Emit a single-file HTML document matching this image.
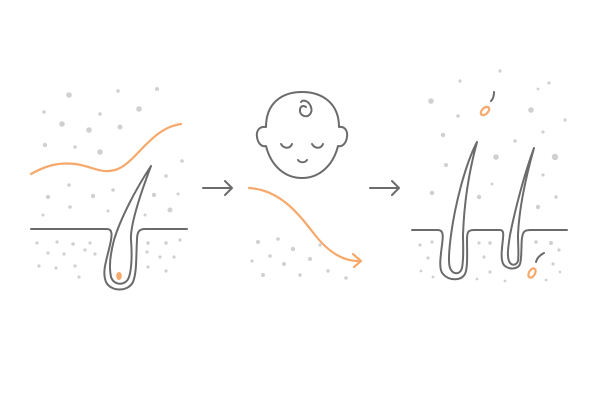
<!DOCTYPE html>
<html><head><meta charset="utf-8"><style>html,body{margin:0;padding:0;background:#fff}svg{display:block}</style></head><body>
<svg width="600" height="400" viewBox="0 0 600 400" xmlns="http://www.w3.org/2000/svg">
<g fill="#d0d0d0">
<circle cx="69" cy="95" r="2.8"/><circle cx="118" cy="91" r="1.8"/><circle cx="157" cy="89" r="2"/><circle cx="44" cy="112" r="1.8"/><circle cx="100" cy="114" r="1.8"/><circle cx="139" cy="109" r="2.8"/><circle cx="62" cy="124" r="2.8"/><circle cx="89" cy="130" r="2.8"/><circle cx="120" cy="127" r="2.5"/><circle cx="45" cy="145" r="2.2"/><circle cx="75" cy="147" r="1.8"/><circle cx="100" cy="152" r="2.8"/><circle cx="182" cy="161" r="1.8"/><circle cx="166" cy="176" r="1.8"/><circle cx="69" cy="185" r="1.8"/><circle cx="48" cy="197" r="2.2"/><circle cx="93" cy="196" r="2.2"/><circle cx="113" cy="190" r="1.8"/><circle cx="154" cy="195" r="2.2"/><circle cx="43" cy="215" r="1.5"/><circle cx="108" cy="211" r="1.5"/><circle cx="145" cy="215" r="1.5"/><circle cx="170" cy="210" r="2.5"/><circle cx="178" cy="194" r="1.5"/><circle cx="70" cy="207" r="1.8"/>
<circle cx="37" cy="243" r="1.6"/><circle cx="57" cy="242" r="1.6"/><circle cx="73" cy="244" r="1.8"/><circle cx="90" cy="243" r="1.6"/><circle cx="48" cy="253" r="1.6"/><circle cx="64" cy="254" r="1.6"/><circle cx="85" cy="250" r="1.6"/><circle cx="95" cy="254" r="1.6"/><circle cx="39" cy="266" r="1.6"/><circle cx="56" cy="268" r="1.6"/><circle cx="75" cy="266" r="1.6"/><circle cx="79" cy="277" r="1.6"/><circle cx="148" cy="243" r="1.8"/><circle cx="166" cy="243" r="1.8"/><circle cx="180" cy="240" r="1.6"/><circle cx="147" cy="252" r="1.6"/><circle cx="160" cy="257" r="1.6"/><circle cx="174" cy="257" r="1.6"/><circle cx="148" cy="267" r="1.6"/><circle cx="166" cy="271" r="1.6"/>
<circle cx="258" cy="242" r="2"/><circle cx="278" cy="239" r="1.8"/><circle cx="293" cy="249" r="2.2"/><circle cx="270" cy="256" r="1.8"/><circle cx="252" cy="261" r="1.6"/><circle cx="284" cy="264" r="2"/><circle cx="310" cy="259" r="2"/><circle cx="263" cy="275" r="2"/><circle cx="300" cy="275" r="1.8"/><circle cx="328" cy="271" r="1.8"/><circle cx="346" cy="278" r="1.8"/><circle cx="320" cy="245" r="1.6"/>
<circle cx="431" cy="101" r="2.8"/><circle cx="460" cy="81" r="1.6"/><circle cx="500" cy="71" r="1.6"/><circle cx="549" cy="83" r="1.6"/><circle cx="538" cy="89" r="1.4"/><circle cx="458" cy="116" r="1.8"/><circle cx="531" cy="110" r="2.8"/><circle cx="565" cy="120" r="1.6"/><circle cx="443" cy="135" r="2.2"/><circle cx="543" cy="132" r="1.6"/><circle cx="515" cy="141" r="1.8"/><circle cx="496" cy="157" r="2.8"/><circle cx="555" cy="157" r="3.2"/><circle cx="446" cy="165" r="2"/><circle cx="543" cy="175" r="1.6"/><circle cx="492" cy="184" r="1.4"/><circle cx="432" cy="193" r="2.2"/><circle cx="479" cy="197" r="2.2"/><circle cx="556" cy="197" r="1.8"/><circle cx="538" cy="207" r="2.2"/>
<circle cx="420" cy="245" r="1.6"/><circle cx="432" cy="242" r="1.6"/><circle cx="428" cy="258" r="1.6"/><circle cx="421" cy="271" r="1.4"/><circle cx="433" cy="277" r="1.4"/><circle cx="479" cy="243" r="1.6"/><circle cx="490" cy="243" r="1.8"/><circle cx="484" cy="257" r="1.6"/><circle cx="490" cy="272" r="1.6"/><circle cx="477" cy="279" r="1.4"/><circle cx="505" cy="281" r="1.4"/><circle cx="536" cy="242" r="1.8"/><circle cx="551" cy="243" r="2"/><circle cx="559" cy="250" r="1.6"/><circle cx="553" cy="264" r="1.6"/><circle cx="546" cy="280" r="1.4"/><circle cx="560" cy="272" r="1.4"/>
</g>
<g fill="none" stroke="#6b6b6b" stroke-width="2" stroke-linecap="round" stroke-linejoin="round">
<path d="M31,229 H107 C113,229 112,236 110,245 C106,262 102,272 106,282 C111,292 128,292 133,282 C137,272 136,255 137,240 C137,232 139,229 145,229 H187"/>
<path d="M151,166 C135,190 120,220 114,240 C110,255 109,268 111,277 C114,286 126,286 129,277 C132,268 132,252 131,240 C130,225 140,195 151,166"/>
<path d="M203,188 H232 M225,181 L232,188 L225,195"/>
<path d="M370,188 H399 M392,181 L399,188 L392,195"/>
<path d="M266,127 C266,103 282,92 302,92 C322,92 339,103 339,127 C344,126 348,130 347,137 C346,144 342,147 338,146 C333,166 319,178 302,178 C285,178 271,166 266,146 C262,147 258,144 257,137 C256,130 260,126 266,127"/>
<path d="M306,107 C300,103 298,112 302,115 C308,119 313,113 311,107 C309,101 303,99 301,102"/>
<path d="M281,144 C284,149 290,149 292,144 M312,144 C315,149 321,149 323,144 M298,160 C300,163 305,163 307,160"/>
<path d="M412,230 H438 C444,230 443,237 442,245 C440,260 439,270 443,274 C449,281 461,281 465,274 C468,268 467,252 467,240 C467,232 468,230 474,230 H500 C505,230 503,237 502,248 C501,258 502,264 505,266 C510,270 518,269 520,264 C522,258 521,245 522,238 C523,231 525,230 531,230 H567"/>
<path d="M477,142 C465,165 455,205 451,235 C449,250 448,262 450,268 C453,275 460,275 462,268 C464,258 463,245 463,235 C464,205 468,175 477,142"/>
<path d="M534,148 C524,175 515,210 510,235 C508,248 507,256 509,261 C511,266 516,266 518,261 C519,255 518,245 518,235 C519,210 525,180 534,148"/>
<path d="M494,92 C494,96 493,99 491,101 M544,253 C540,255 537,258 536,262"/>
</g>
<g fill="none" stroke="#f7a86b" stroke-width="2.2" stroke-linecap="round" stroke-linejoin="round">
<path d="M31,174 C45,166 58,162 75,164 C92,166 100,174 115,170 C135,165 150,128 181,124"/>
<path d="M249,188 C280,190 298,213 315,235 C330,254 345,262 361,261 M353,254 L361,261 L354,267"/>
<ellipse cx="485" cy="111" rx="3" ry="5" transform="rotate(45 485 111)"/>
<ellipse cx="532" cy="273" rx="3" ry="5" transform="rotate(30 532 273)"/>
</g>
<ellipse cx="119" cy="276" rx="2.8" ry="4" fill="#f7a86b"/>
</svg>
</body></html>
